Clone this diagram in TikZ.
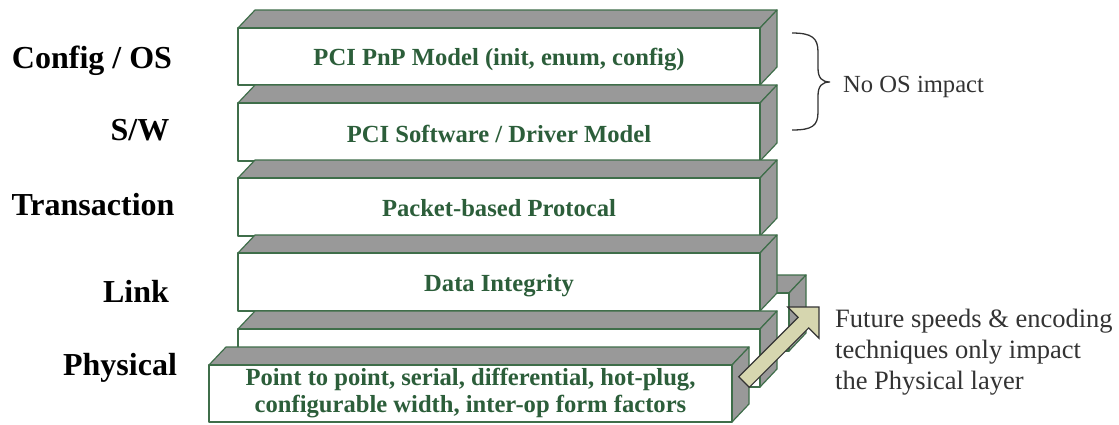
\documentclass[tikz,border=0pt]{standalone}
\usepackage{fontspec}
\setmainfont{Liberation Serif}
\definecolor{boxgreen}{HTML}{3F6E4A}
\definecolor{txtgreen}{HTML}{2C5E3A}
\definecolor{boxgray}{HTML}{999999}
\definecolor{arrowfill}{HTML}{D6D6AF}
\definecolor{inkgray}{HTML}{333333}
\tikzset{
  facestyle/.style={fill=boxgray, draw=boxgreen, line width=1.2pt, line join=round},
  frontstyle/.style={fill=white, draw=boxgreen, line width=1.2pt, line join=round},
  layerlabel/.style={font=\bfseries\fontsize{32}{36}\selectfont, text=black, inner sep=0pt, anchor=base},
  innertext/.style={font=\bfseries\fontsize{24.6}{27}\selectfont, text=txtgreen, inner sep=0pt, anchor=base},
  notetext/.style={font=\fontsize{26.5}{31}\selectfont, text=inkgray, inner sep=0pt},
}
\newcommand\mycuboid[4]{% x y w h (pixel coords, y downwards)
  \filldraw[facestyle] (#1,#2) -- ++(17,-18) -- ++(#3,0) -- ++(-17,18) -- cycle;
  \filldraw[facestyle] (#1+#3,#2) -- ++(17,-18) -- ++(0,#4) -- ++(-17,18) -- cycle;
  \filldraw[frontstyle] (#1,#2) rectangle ++(#3,#4);
}
\begin{document}
\begin{tikzpicture}[x=1pt, y=-1pt]
\useasboundingbox[fill=white] (0,0) rectangle (1119,424);
% future physical layer (behind)
\mycuboid{267}{293}{522}{58}
% layers
\mycuboid{238}{28}{522}{57}
\mycuboid{238}{103}{522}{58}
\mycuboid{238}{178}{522}{58}
\mycuboid{238}{253}{522}{58}
\mycuboid{238}{329}{522}{58}
% physical layer (front)
\mycuboid{209}{365}{523}{57}

% inner texts
\node[innertext] (t1) at (499,65) {PCI PnP Model (init, enum, config)};
\node[innertext] (t2) at (499,142) {PCI Software / Driver Model};
\node[innertext] (t3) at (499,216) {Packet-based Protocal};
\node[innertext] (t4) at (499,291) {Data Integrity};
\node[innertext, anchor=north, align=center] (t5) at (470.5,368)
  {Point to point, serial, differential, hot-plug,\\configurable width, inter-op form factors};

% left labels
\node[layerlabel] (lcfg) at (92,68) {Config / OS};
\node[layerlabel] (lsw) at (140,140) {S/W};
\node[layerlabel] (ltr) at (93,215) {Transaction};
\node[layerlabel] (llk) at (136,302) {Link};
\node[layerlabel] (lph) at (120,375) {Physical};

% brace
\coordinate (btop) at (792,33);
\coordinate (bbot) at (792,130);
\coordinate (btip) at (830,82);
\draw[inkgray, line width=1.3pt] (btop) .. controls (812,33) and (818,38) .. (818,52)
  -- (818,68) .. controls (818,78) and (822,82) .. (btip)
  .. controls (822,82) and (818,86) .. (818,96)
  -- (818,112) .. controls (818,126) and (812,130) .. (bbot);
\node[notetext, font=\fontsize{24.6}{30}\selectfont, anchor=base west] (noos) at (843,92) {No OS impact};

% arrow
\begin{scope}[shift={(744,382)}, rotate=45]
  \filldraw[fill=arrowfill, draw=inkgray, line width=1.2pt, line join=miter]
    (0,-7.5) -- (84,-7.5) -- (84,-22) -- (106,0) -- (84,22) -- (84,7.5) -- (0,7.5) -- cycle;
\end{scope}
\node[notetext, anchor=north west, align=left] (future) at (835,309)
  {Future speeds \& encoding\\techniques only impact\\the Physical layer};
\end{tikzpicture}
\end{document}
